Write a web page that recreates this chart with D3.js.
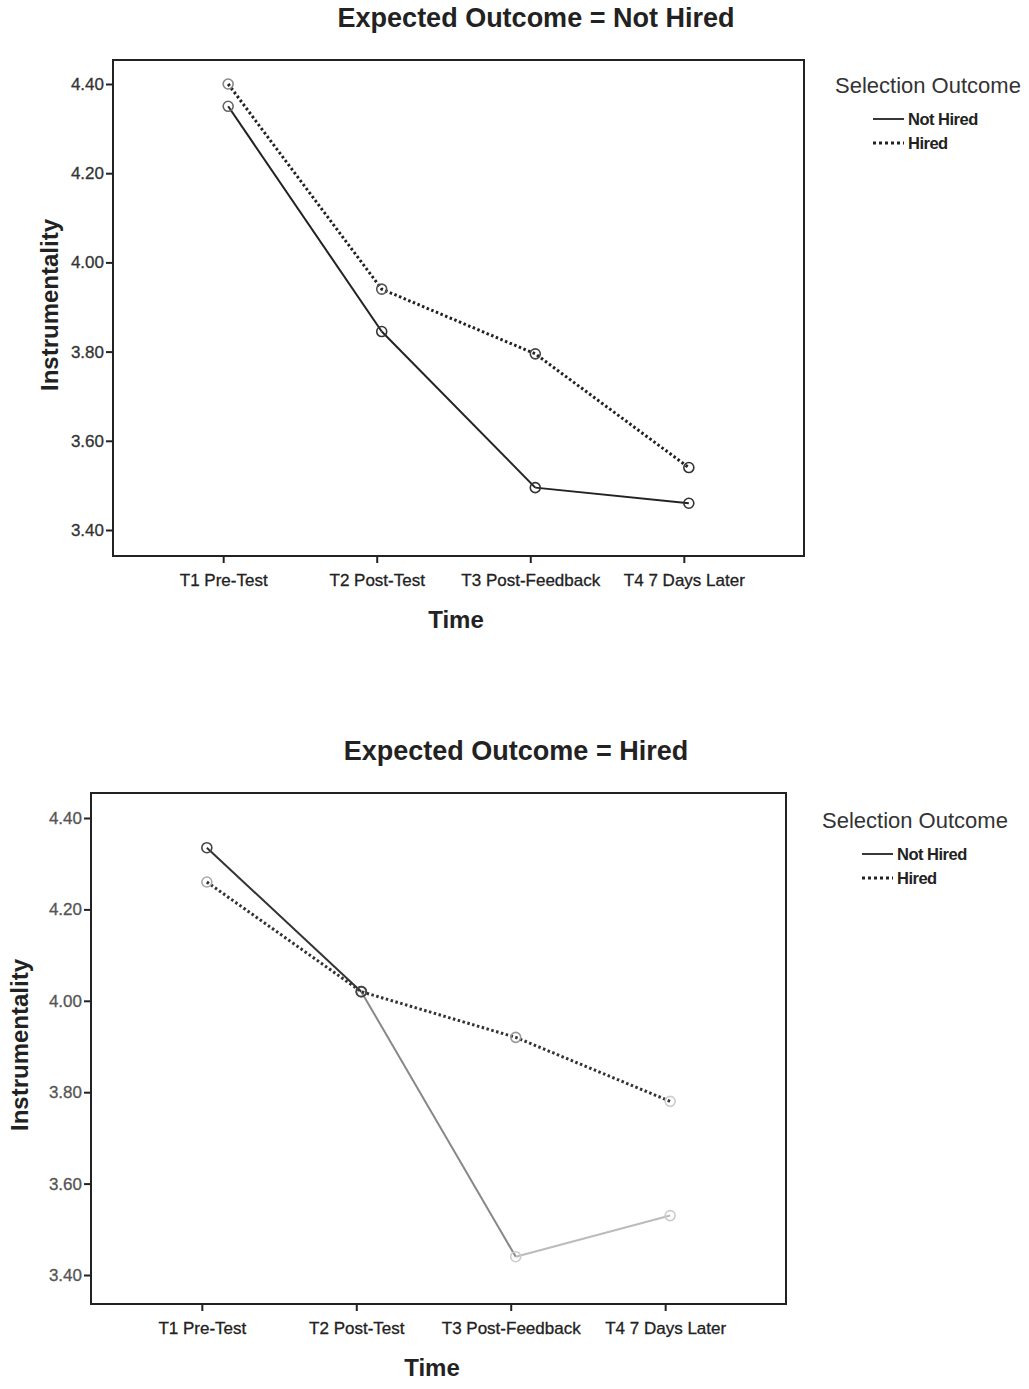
<!DOCTYPE html>
<html>
<head>
<meta charset="utf-8">
<script src="https://cdn.jsdelivr.net/npm/d3@7"></script>
<style>
  body { margin:0; background:#fff; }
  svg { display:block; font-family: "Liberation Sans", Arial, sans-serif; }
</style>
</head>
<body>
<svg id="chart" width="1029" height="1389"></svg>
<script>
// ---- Data ----
const timePoints = ["T1 Pre-Test", "T2 Post-Test", "T3 Post-Feedback", "T4 7 Days Later"];
const yTicks = [3.40, 3.60, 3.80, 4.00, 4.20, 4.40];
const seriesNames = ["Not Hired", "Hired"];

// Panel 1: Expected Outcome = Not Hired
const panel1NotHired = [4.35, 3.845, 3.495, 3.46];
const panel1Hired    = [4.40, 3.94, 3.795, 3.54];

// Panel 2: Expected Outcome = Hired
const panel2NotHired = [4.335, 4.02, 3.44, 3.53];
const panel2Hired    = [4.26, 4.02, 3.92, 3.78];

const panelTitles = ["Expected Outcome = Not Hired", "Expected Outcome = Hired"];

// ---- Drawing ----
const svg = d3.select("#chart");

function drawPanel(cfg) {
  const g = svg.append("g");
  const f = cfg.frame;

  const x = d3.scalePoint().domain(timePoints).range([f.left, f.right]).padding(0.75);
  const y = d3.scaleLinear().domain([3.40, 4.40]).range([cfg.yBottom, cfg.yTop]);

  // frame
  g.append("rect")
    .attr("x", f.left).attr("y", f.top)
    .attr("width", f.right - f.left).attr("height", f.bottom - f.top)
    .attr("fill", "none").attr("stroke", "#222").attr("stroke-width", 2);

  // y axis
  const yAxis = d3.axisLeft(y).tickValues(yTicks).tickFormat(d3.format(".2f")).tickSize(7).tickSizeOuter(0);
  const ya = g.append("g").attr("transform", `translate(${f.left},0)`).call(yAxis);
  ya.select(".domain").remove();
  ya.selectAll(".tick line").attr("stroke", "#222").attr("stroke-width", 2);
  ya.selectAll(".tick text").attr("font-size", 17).attr("fill", cfg.yTickColor)
    .attr("stroke", cfg.yTickColor).attr("stroke-width", 0.3).attr("dx", 1);

  // x axis
  const xAxis = d3.axisBottom(x).tickSize(7).tickSizeOuter(0);
  const xa = g.append("g").attr("transform", `translate(0,${f.bottom})`).call(xAxis);
  xa.select(".domain").remove();
  xa.selectAll(".tick line").attr("stroke", "#222").attr("stroke-width", 2).attr("transform", "translate(-5,0)");
  xa.selectAll(".tick text").attr("font-size", 17).attr("fill", "#222")
    .attr("stroke", "#222").attr("stroke-width", 0.3)
    .attr("y", 10).attr("dy", "20px").attr("transform", "translate(-5,0)");

  // title
  g.append("text").attr("x", cfg.titleX).attr("y", cfg.titleY)
    .attr("text-anchor", "middle").attr("font-size", 27).attr("font-weight", "bold").attr("fill", "#222")
    .text(cfg.title);

  // axis titles
  g.append("text").attr("x", cfg.xTitleX).attr("y", cfg.xTitleY)
    .attr("text-anchor", "middle").attr("font-size", 24).attr("font-weight", "bold").attr("fill", "#222")
    .text("Time");
  g.append("text")
    .attr("transform", `translate(${cfg.yTitleX},${cfg.yTitleY}) rotate(-90)`)
    .attr("text-anchor", "middle").attr("font-size", 24).attr("font-weight", "bold").attr("fill", "#222")
    .text("Instrumentality");

  // lines
  const line = d3.line().x((d, i) => x(timePoints[i])).y(d => y(d));

  // Not Hired: solid, drawn segment by segment (scan fades later segments)
  cfg.notHired.slice(1).forEach((v, i) => {
    g.append("path")
      .datum([cfg.notHired[i], v])
      .attr("d", d3.line().x((d, j) => x(timePoints[i + j])).y(d => y(d)))
      .attr("fill", "none").attr("stroke", cfg.nhSegColors[i]).attr("stroke-width", 2);
  });
  g.append("path").datum(cfg.hired).attr("d", line)
    .attr("fill", "none").attr("stroke", cfg.hColor).attr("stroke-width", 3)
    .attr("stroke-dasharray", "2.5,2.5");

  // markers
  [[cfg.notHired, cfg.nhMarkColors], [cfg.hired, cfg.hMarkColors]].forEach(([vals, cols]) => {
    g.selectAll(null).data(vals).enter().append("circle")
      .attr("cx", (d, i) => x(timePoints[i])).attr("cy", d => y(d))
      .attr("r", 5).attr("fill", "none")
      .attr("stroke", (d, i) => cols[i]).attr("stroke-width", 1.6);
  });

  // legend
  const L = cfg.legend;
  g.append("text").attr("x", L.x).attr("y", L.y).attr("font-size", 22).attr("fill", "#333")
    .text("Selection Outcome");
  seriesNames.forEach((name, i) => {
    const ly = L.y + 26 + i * 24;
    g.append("line").attr("x1", L.lx).attr("x2", L.lx + 31).attr("y1", ly).attr("y2", ly)
      .attr("stroke", "#222").attr("stroke-width", i === 0 ? 1.8 : 3)
      .attr("stroke-dasharray", i === 0 ? null : "3,3");
    g.append("text").attr("x", L.lx + 35).attr("y", ly + 6).attr("font-size", 16.5)
      .attr("font-weight", "bold").attr("fill", "#222").attr("letter-spacing", "-0.5").text(name);
  });
}

drawPanel({
  title: panelTitles[0], titleX: 536, titleY: 27,
  frame: {left: 113, right: 804, top: 60, bottom: 556},
  yTop: 84, yBottom: 530,
  xTitleX: 456, xTitleY: 628, yTitleX: 58, yTitleY: 305,
  notHired: panel1NotHired, hired: panel1Hired,
  nhSegColors: ["#222", "#222", "#222"], hColor: "#222", yTickColor: "#333",
  nhMarkColors: ["#666", "#333", "#333", "#333"], hMarkColors: ["#888", "#555", "#444", "#333"],
  legend: {x: 835, y: 93, lx: 873}
});

drawPanel({
  title: panelTitles[1], titleX: 516, titleY: 760,
  frame: {left: 91, right: 786, top: 793, bottom: 1304},
  yTop: 818, yBottom: 1275,
  xTitleX: 432, xTitleY: 1376, yTitleX: 28, yTitleY: 1045,
  notHired: panel2NotHired, hired: panel2Hired,
  nhSegColors: ["#333", "#888", "#bbb"], hColor: "#333", yTickColor: "#555",
  nhMarkColors: ["#444", "#444", "#ccc", "#ccc"], hMarkColors: ["#aaa", "#444", "#999", "#ccc"],
  legend: {x: 822, y: 828, lx: 862}
});
</script>
</body>
</html>
